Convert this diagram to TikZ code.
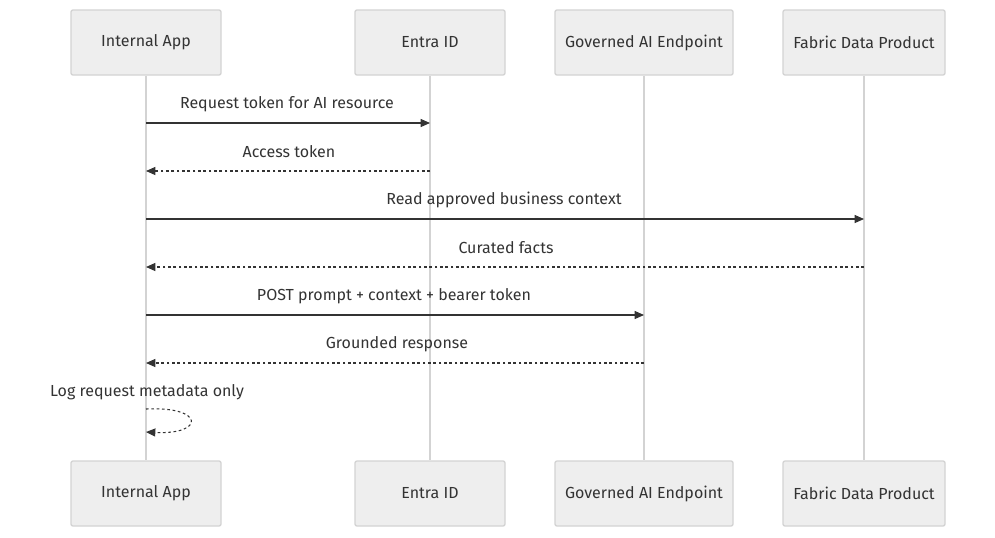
\documentclass[tikz,border=0pt]{standalone}
\usepackage{fontspec}
\setmainfont{Fira Sans}
\usetikzlibrary{arrows.meta}
\definecolor{boxfill}{HTML}{EEEEEE}
\definecolor{boxline}{HTML}{D3D3D3}
\definecolor{ink}{HTML}{333333}
\begin{document}
\begin{tikzpicture}[x=0.75pt,y=-0.75pt,
  actor/.style={draw=boxline,fill=boxfill,rounded corners=1.5pt,line width=1pt,minimum height=48.75pt,inner sep=0pt,font=\fontsize{12}{14}\selectfont,text=ink},
  life/.style={draw=boxline,line width=1pt},
  msg/.style={draw=ink,line width=0.8pt,-{Triangle[length=7pt,width=6pt]}},
  ret/.style={msg,dash pattern=on 2pt off 2pt},
  lbl/.style={font=\fontsize{12}{14}\selectfont,text=ink,inner sep=0pt}]
\useasboundingbox (0,0) rectangle (995,537);
\foreach \n/\x/\w/\t in {a/146/150/Internal App,b/430/150/Entra ID,c/644/178/Governed AI Endpoint,d/864/162/Fabric Data Product}{
  \node[actor,minimum width=\w*0.75pt] (\n top) at (\x,42.5) {\t};
  \node[actor,minimum width=\w*0.75pt] (\n bot) at (\x,493.5) {\t};
  \draw[life] (\n top.south) -- (\n bot.north);
}
\foreach \n in {a,b,c,d}{
  \foreach \y in {123,171,219,267,315,363,409,432}{\coordinate (\n\y) at (\n top.south |- 0,\y);}
}
\draw[msg] (a123) -- (b123);
\node[lbl] (l1) at (287,104) {Request token for AI resource};
\draw[ret] (b171) -- (a171);
\node[lbl] (l2) at (289,152) {Access token};
\draw[msg] (a219) -- (d219);
\node[lbl] (l3) at (504,200) {Read approved business context};
\draw[ret] (d267) -- (a267);
\node[lbl] (l4) at (506,248) {Curated facts};
\draw[msg] (a315) -- (c315);
\node[lbl] (l5) at (394,296) {POST prompt + context + bearer token};
\draw[ret] (c363) -- (a363);
\node[lbl] (l6) at (397,344) {Grounded response};
\draw[ret] (a409) .. controls (205,406) and (205,435) .. (a432);
\node[lbl] (l7) at (147,392) {Log request metadata only};
\end{tikzpicture}
\end{document}
